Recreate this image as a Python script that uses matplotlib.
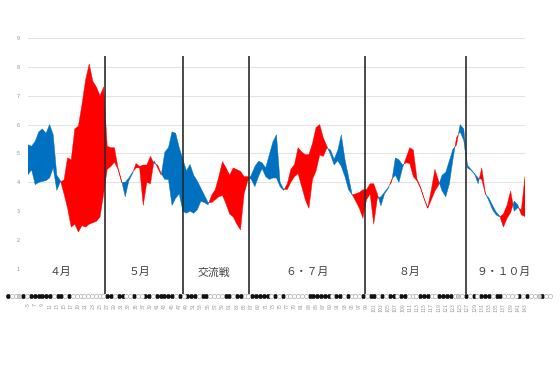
import matplotlib
matplotlib.use("Agg")
import matplotlib.pyplot as plt
import numpy as np

plt.rcParams['font.family'] = ['Noto Sans CJK JP', 'DejaVu Sans']

# game numbers (5-game moving average starts at game 5)
games = list(range(5, 144))

# series A (red when above B)
series_a = [
    4.26, 4.44, 3.92, 4.0, 4.03, 4.06, 4.15, 4.5, 3.72, 4.02,
    4.08, 4.85, 4.78, 5.85, 5.95, 6.7, 7.55, 8.1, 7.5, 7.3,
    7.0, 7.3, 5.25, 5.2, 5.2, 4.5, 4.05, 3.5, 4.05, 4.3,
    4.65, 4.55, 4.6, 4.6, 4.9, 4.65, 4.6, 4.3, 4.1, 4.1,
    3.2, 3.45, 3.6, 3.0, 2.93, 3.0, 2.93, 3.05, 3.34, 3.3,
    3.22, 3.55, 3.75, 4.2, 4.72, 4.5, 4.25, 4.5, 4.44, 4.38,
    4.2, 4.2, 4.1, 3.85, 4.2, 4.48, 4.2, 4.1, 4.15, 4.15,
    3.85, 3.72, 3.95, 4.45, 4.62, 5.2, 5.05, 4.96, 4.96, 5.35,
    5.9, 6.0, 5.54, 5.25, 4.96, 4.6, 4.75, 4.55, 4.2, 3.75,
    3.57, 3.6, 3.65, 3.74, 3.75, 3.95, 3.95, 3.6, 3.18, 3.6,
    3.78, 4.1, 4.25, 4.0, 4.5, 4.85, 5.2, 5.12, 4.12, 3.83,
    3.45, 3.12, 3.75, 4.45, 4.05, 3.7, 3.5, 3.95, 4.8, 5.55,
    5.75, 5.45, 4.5, 4.42, 4.28, 3.95, 4.5, 3.62, 3.35, 3.05,
    2.87, 2.8, 2.9, 3.2, 3.7, 3.0, 3.12, 3.05, 4.2,
]

# series B (blue when above A)
series_b = [
    5.3, 5.25, 5.42, 5.75, 5.85, 5.7, 6.0, 5.65, 4.25, 4.06,
    3.6, 3.1, 2.45, 2.55, 2.28, 2.5, 2.45, 2.55, 2.6, 2.65,
    2.8, 3.6, 4.45, 4.55, 4.7, 4.45, 4.0, 4.0, 4.15, 4.35,
    4.5, 4.5, 3.2, 4.0, 3.95, 4.75, 4.5, 4.25, 5.05, 5.2,
    5.75, 5.7, 5.2, 4.8, 4.4, 4.62, 4.25, 4.05, 3.8, 3.55,
    3.3, 3.3, 3.4, 3.5, 3.55, 3.25, 2.9, 2.8, 2.55, 2.35,
    3.6, 4.05, 4.25, 4.55, 4.73, 4.68, 4.5, 4.95, 5.4, 5.65,
    4.0, 3.76, 3.75, 4.0, 4.2, 4.3, 3.85, 3.4, 3.1, 4.1,
    4.4, 4.95, 4.9, 5.19, 5.12, 4.8, 5.1, 5.65, 4.8, 4.2,
    3.58, 3.35, 3.1, 2.76, 3.4, 3.6, 2.55, 3.45, 3.5, 3.66,
    3.82, 4.02, 4.85, 4.78, 4.6, 4.68, 4.65, 4.2, 4.05, 3.8,
    3.42, 3.1, 3.4, 3.7, 3.9, 4.25, 4.35, 4.75, 5.15, 5.3,
    6.0, 5.85, 4.6, 4.45, 4.3, 4.15, 4.1, 3.6, 3.45, 3.2,
    2.97, 2.83, 2.45, 2.75, 2.95, 3.35, 3.22, 2.87, 2.82,
]

# month separators (game positions) and labels
month_bounds = [26.5, 48, 66.5, 98.5, 126.5]
month_labels = ["４月", "５月", "交流戦", "６・７月", "８月", "９・１０月"]
month_label_pos = [13.9, 36.0, 56.5, 82.5, 111.0, 137.0]

# game results row: W win, L loss, D draw
results = (
    "WLLDWLWWWWWWLWWLWLLLLLLLLLWWLWWLLWL"
    "LWWLWWWWWLWLWWWLWWLLLLWWLWWLLWWWWWLW"
    "LWLLLLLLWWWWWWLWWLWLLLWLWWLWLWWLWWLL"
    "LWWWLLWWWWLDLWLWLWWWLWWLLLLWLWLLDWLL"
)

W, H = 560, 373
fig = plt.figure(figsize=(W / 100, H / 100), dpi=100)
fig.patch.set_facecolor("white")

ax_left, ax_right = 28 / W, 525 / W
ax_bottom = (H - 297.8) / H
ax_top = (H - 38) / H
ax = fig.add_axes([ax_left, ax_bottom, ax_right - ax_left, ax_top - ax_bottom])

x = np.array(games, dtype=float)
a = np.array(series_a)
b = np.array(series_b)

red = "#FF0000"
blue = "#0070C0"
ax.fill_between(x, a, b, where=a >= b, interpolate=True, color=red,
                linewidth=0.3, edgecolor=red, zorder=3)
ax.fill_between(x, a, b, where=a < b, interpolate=True, color=blue,
                linewidth=0.3, edgecolor=blue, zorder=3)

ax.set_xlim(5, 143)
ax.set_ylim(0, 9)

yt = list(range(1, 10))
ax.set_yticks(yt)
ax.set_yticklabels([str(v) for v in yt])
ax.grid(axis="y", color="#E3E3E3", linewidth=0.8, zorder=0)
ax.grid(axis="x", visible=False)
for v, gl in zip(yt, ax.yaxis.get_gridlines()):
    gl.set_visible(v >= 4)

xt = games[::2]
ax.set_xticks(xt)
ax.set_xticklabels([str(g) for g in xt], rotation=90)
ax.tick_params(axis="x", length=0, labelsize=3.8, labelcolor="#999999", pad=4)
ax.tick_params(axis="y", length=0, labelsize=4, labelcolor="#909090", pad=6)

for s in ax.spines.values():
    s.set_visible(False)

ax.vlines(month_bounds, 0.12, 8.36, color="#2B2B2B", linewidth=1.2, zorder=4)

for lab, pos in zip(month_labels, month_label_pos):
    ax.text(pos, 0.88, lab, ha="center", va="center", fontsize=7.8,
            color="#404040", zorder=5)

# results dots row
dot_y = (H - 296) / H
dax = fig.add_axes([8 / W, dot_y - 0.02, 542 / W, 0.04])
dax.set_xlim(0, len(results) - 1)
dax.set_ylim(-1, 1)
dax.axis("off")
dax.patch.set_alpha(0)
idx = np.arange(len(results))
face = {"W": "#111111", "L": "#FFFFFF", "D": "#D0D0D0"}
edge = {"W": "#111111", "L": "#A8A8A8", "D": "#A0A0A0"}
for kind in "WLD":
    sel = [i for i, r in enumerate(results) if r == kind]
    if sel:
        dax.scatter(idx[sel], np.zeros(len(sel)), s=9, c=face[kind],
                    edgecolors=edge[kind], linewidths=0.45, clip_on=False, zorder=3)

fig.savefig("out.png", dpi=100)
